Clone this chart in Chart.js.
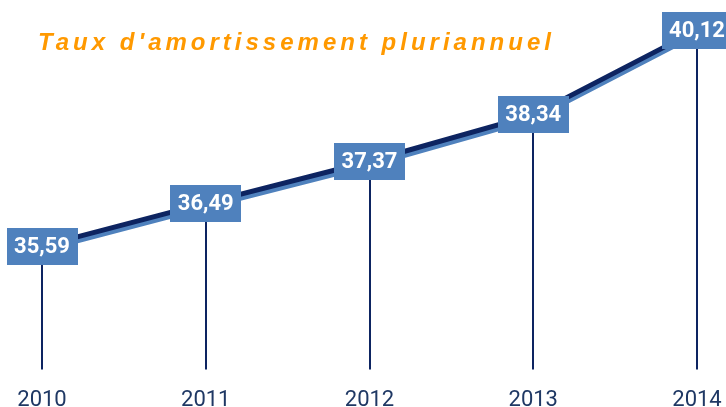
<!DOCTYPE html>
<html>
<head>
<meta charset="utf-8">
<script src="https://cdn.jsdelivr.net/npm/chart.js@4"></script>
<style>
  html, body { margin: 0; padding: 0; background: #fff; overflow: hidden; }
  #wrap { width: 726px; height: 432px; position: relative; }
</style>
</head>
<body>
<div id="wrap"><canvas id="chart"></canvas></div>
<script>
const years = ['2010', '2011', '2012', '2013', '2014'];
const rates = [35.59, 36.49, 37.37, 38.34, 40.12];
const title = "Taux d'amortissement pluriannuel";

const navy = '#0d2461';
const blue = '#4f81bd';

// light blue offset stroke under the dark line
const shadowLine = {
  id: 'shadowLine',
  beforeDatasetDraw(chart) {
    const ctx = chart.ctx;
    ctx.save();
    ctx.shadowColor = blue;
    ctx.shadowOffsetX = 0;
    ctx.shadowOffsetY = 4;
    ctx.shadowBlur = 0;
  },
  afterDatasetDraw(chart) {
    chart.ctx.restore();
  }
};

// vertical drop lines from each point to the bottom
const dropLines = {
  id: 'dropLines',
  beforeDatasetsDraw(chart) {
    const ctx = chart.ctx;
    const bottom = chart.chartArea.bottom;
    ctx.save();
    ctx.strokeStyle = navy;
    ctx.lineWidth = 2;
    chart.getDatasetMeta(0).data.forEach(pt => {
      ctx.beginPath();
      ctx.moveTo(Math.round(pt.x), pt.y);
      ctx.lineTo(Math.round(pt.x), bottom);
      ctx.stroke();
    });
    ctx.restore();
  }
};

// value boxes + title
const valueBoxes = {
  id: 'valueBoxes',
  afterDatasetsDraw(chart) {
    const ctx = chart.ctx;
    ctx.save();
    chart.getDatasetMeta(0).data.forEach((pt, i) => {
      const w = 71, h = 37;
      ctx.fillStyle = blue;
      ctx.fillRect(Math.round(pt.x - w / 2), Math.round(pt.y - h / 2), w, h);
      ctx.fillStyle = '#fff';
      ctx.font = 'bold 22px Roboto';
      ctx.textAlign = 'center';
      ctx.textBaseline = 'middle';
      ctx.fillText(rates[i].toFixed(2).replace('.', ','), pt.x, pt.y + 1);
    });
    ctx.fillStyle = '#ff9900';
    ctx.font = 'italic bold 24px "Liberation Sans"';
    ctx.letterSpacing = '4px';
    ctx.textAlign = 'left';
    ctx.textBaseline = 'middle';
    ctx.fillText(title, 38, 43);
    ctx.restore();
  }
};

new Chart(document.getElementById('chart').getContext('2d'), {
  type: 'line',
  data: {
    labels: years,
    datasets: [
      {
        data: rates,
        borderColor: navy,
        borderWidth: 5,
        pointRadius: 0,
        tension: 0,
        fill: false,
      },
    ],
  },
  options: {
    responsive: true,
    maintainAspectRatio: false,
    animation: false,
    layout: { padding: { left: 42, right: 29, top: 12, bottom: 0 } },
    scales: {
      x: {
        offset: false,
        grid: { display: false, drawTicks: false },
        border: { display: false },
        ticks: { color: '#1f3864', font: { family: 'Roboto', size: 22 }, padding: 18 },
        afterFit(scale) {
          scale.paddingLeft = 0;
          scale.paddingRight = 0;
        },
      },
      y: { display: false, min: 33, max: 40.5 },
    },
    plugins: { legend: { display: false }, tooltip: { enabled: false } },
  },
  plugins: [shadowLine, dropLines, valueBoxes],
});
</script>
</body>
</html>
